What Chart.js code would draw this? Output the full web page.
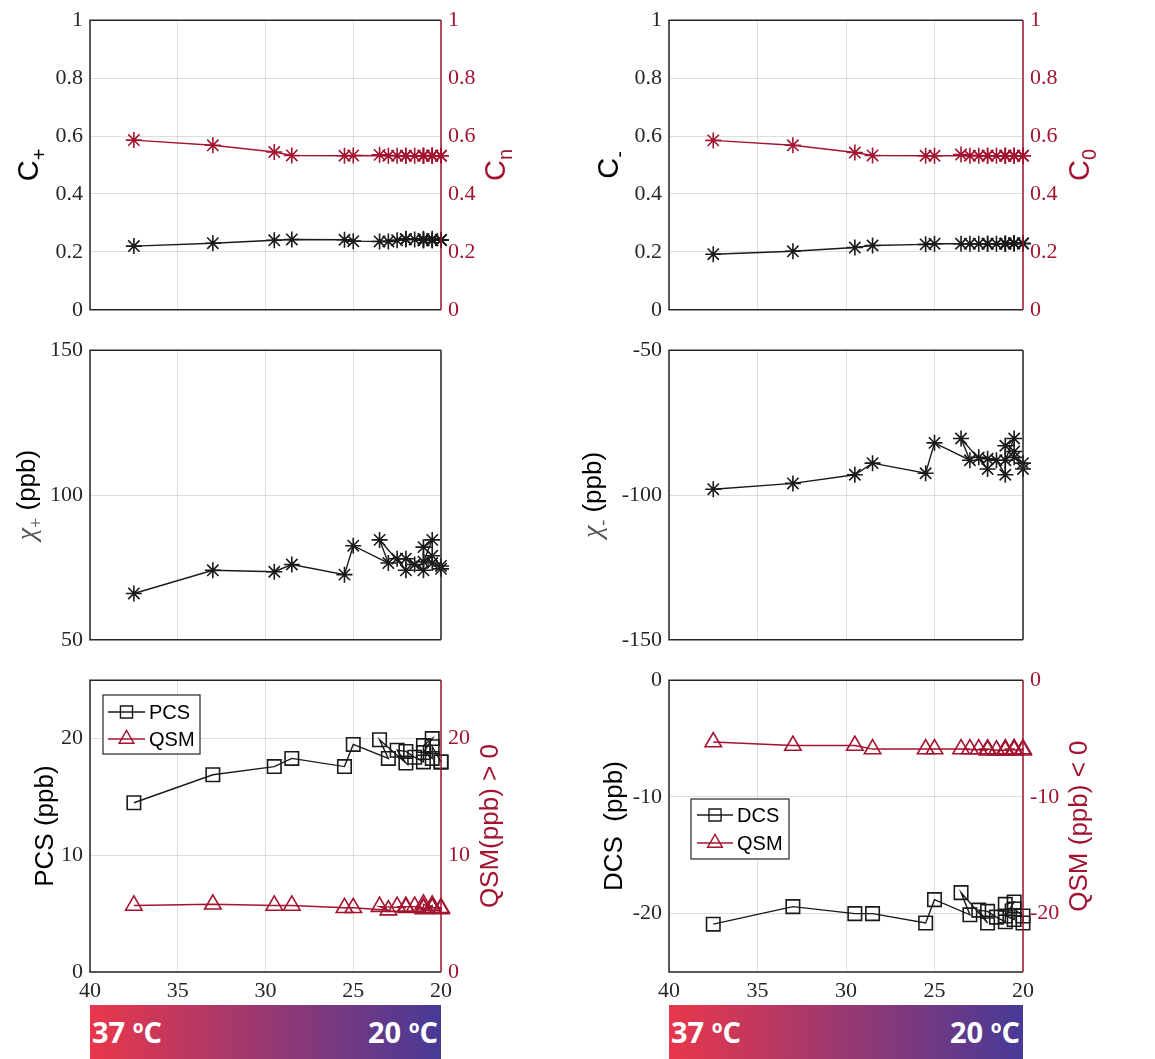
<!DOCTYPE html>
<html>
<head>
<meta charset="utf-8">
<script src="https://cdn.jsdelivr.net/npm/chart.js@4.4.0/dist/chart.umd.min.js"></script>
<style>
html, body { margin: 0; padding: 0; background: #fff; }
body { width: 1155px; height: 1059px; position: relative; overflow: hidden; }
.panel { position: absolute; }
.bar { position: absolute; top: 1005px; height: 54px; background: linear-gradient(to right, #e9374b, #473a97); color: #fff; font: bold 29px "Open Sans", sans-serif; }
.bar span { position: absolute; top: 12px; line-height: 1; }
.bar sup { font-size: 0.6em; vertical-align: 0.6em; }
</style>
</head>
<body>
<div class="panel" style="left:0;top:0;width:580px;height:330px"><canvas id="cPlusChart"></canvas></div>
<div class="panel" style="left:580px;top:0;width:575px;height:330px"><canvas id="cMinusChart"></canvas></div>
<div class="panel" style="left:0;top:330px;width:580px;height:330px"><canvas id="chiPlusChart"></canvas></div>
<div class="panel" style="left:580px;top:330px;width:575px;height:330px"><canvas id="chiMinusChart"></canvas></div>
<div class="panel" style="left:0;top:660px;width:580px;height:345px"><canvas id="pcsChart"></canvas></div>
<div class="panel" style="left:580px;top:660px;width:575px;height:345px"><canvas id="dcsChart"></canvas></div>
<div class="bar" style="left:90px;width:351px"><span style="left:2px">37 <sup>o</sup>C</span><span style="right:3px">20 <sup>o</sup>C</span></div>
<div class="bar" style="left:669px;width:354px"><span style="left:2px">37 <sup>o</sup>C</span><span style="right:3px">20 <sup>o</sup>C</span></div>
<script>
// temperature (°C) of each acquisition, in acquisition order
const temps    = [37.5, 33, 29.5, 28.5, 25.5, 25, 23, 23.5, 22, 22.5, 22, 21.5, 21, 21, 20.5, 21, 20.5, 20.5, 20, 20];
const cPlus    = [0.22, 0.23, 0.24, 0.243, 0.242, 0.237, 0.236, 0.236, 0.243, 0.24, 0.245, 0.243, 0.24, 0.245, 0.24, 0.24, 0.24, 0.245, 0.24, 0.242];
const cN       = [0.586, 0.568, 0.545, 0.533, 0.532, 0.533, 0.532, 0.535, 0.532, 0.532, 0.532, 0.532, 0.532, 0.532, 0.533, 0.532, 0.532, 0.532, 0.532, 0.532];
const cMinus   = [0.192, 0.202, 0.215, 0.222, 0.226, 0.228, 0.228, 0.228, 0.228, 0.228, 0.228, 0.228, 0.229, 0.228, 0.23, 0.228, 0.229, 0.23, 0.228, 0.23];
const cZero    = [0.585, 0.568, 0.543, 0.533, 0.532, 0.532, 0.532, 0.536, 0.532, 0.532, 0.532, 0.532, 0.532, 0.532, 0.532, 0.532, 0.532, 0.532, 0.532, 0.532];
const chiPlus  = [66, 74, 73.5, 76, 72.5, 82.5, 76.5, 84.5, 74, 78, 78, 76, 74, 82, 84.5, 77, 79, 76.5, 75.5, 74.5];
const chiMinus = [-98, -96, -93, -89, -92.5, -82, -88, -80.5, -91, -87, -87.5, -88, -93, -83, -80.5, -88, -85, -87, -89, -91];
const pcs      = [14.5, 16.9, 17.6, 18.3, 17.6, 19.5, 18.3, 19.9, 17.9, 19, 18.9, 18.4, 18, 19.4, 20, 18.8, 18.3, 19.3, 18, 18];
const qsmPos   = [5.7, 5.8, 5.7, 5.7, 5.5, 5.5, 5.3, 5.6, 5.5, 5.6, 5.6, 5.6, 5.5, 5.8, 5.5, 5.4, 5.7, 5.5, 5.5, 5.4];
const dcs      = [-20.9, -19.4, -20, -20, -20.8, -18.8, -20.1, -18.2, -20.8, -19.7, -19.8, -20.3, -20.7, -19.2, -19, -20.2, -20.5, -19.6, -20.2, -20.8];
const qsmNeg   = [-5.3, -5.6, -5.6, -5.9, -5.9, -5.9, -5.9, -5.9, -6.0, -5.9, -5.9, -6.0, -6.0, -5.9, -5.9, -6.0, -5.9, -6.0, -5.9, -6.0];
const xTicks   = [40, 35, 30, 25, 20];

const BLACK = '#1a1a1a', RED = '#a2142f', AXIS = '#262626', GRID = 'rgba(0,0,0,0.13)';
const tickFont = { family: '"Liberation Serif", serif', size: 22 };
const SANS = '"Liberation Sans", Arial, sans-serif';

const pts = vals => temps.map((t, i) => ({ x: t, y: vals[i] }));

function series(label, vals, color, style, radius, axis) {
  return {
    label, data: pts(vals), yAxisID: axis || 'y',
    borderColor: color, borderWidth: 1.4,
    pointStyle: style, pointRadius: radius, pointBorderWidth: 1.6,
    pointBorderColor: color, pointBackgroundColor: 'rgba(0,0,0,0)',
    clip: false, tension: 0
  };
}

function xAxis(labels, h) {
  return {
    type: 'linear', min: 20, max: 40, reverse: true,
    afterFit: s => { s.height = h; },
    afterBuildTicks: s => { s.ticks = xTicks.map(v => ({ value: v })); },
    grid: { color: GRID, drawTicks: false },
    border: { display: false },
    ticks: { display: labels, color: AXIS, font: tickFont, padding: 6, maxRotation: 0 }
  };
}

function yAxis(pos, min, max, step, color, w, grid) {
  return {
    type: 'linear', position: pos, min, max,
    afterFit: s => { s.width = w; },
    grid: { display: grid, color: GRID, drawTicks: false },
    border: { display: false },
    ticks: {
      stepSize: step, includeBounds: false, color, font: tickFont, padding: 7,
      callback: v => String(Math.round(v * 10) / 10)
    }
  };
}

// box around the plot area (right edge coloured like the right axis)
const framePlugin = {
  id: 'frame',
  afterDraw(chart, args, opts) {
    const { ctx, chartArea: a } = chart;
    ctx.save();
    ctx.lineWidth = 1.5;
    ctx.strokeStyle = AXIS;
    ctx.beginPath();
    ctx.moveTo(a.right, a.top); ctx.lineTo(a.left, a.top);
    ctx.lineTo(a.left, a.bottom); ctx.lineTo(a.right, a.bottom);
    ctx.stroke();
    ctx.strokeStyle = opts.right || AXIS;
    ctx.beginPath(); ctx.moveTo(a.right, a.top); ctx.lineTo(a.right, a.bottom); ctx.stroke();
    ctx.restore();
  }
};

// rotated axis titles with subscripts
const titlePlugin = {
  id: 'sideTitles',
  afterDraw(chart, args, opts) {
    const { ctx, chartArea: a } = chart;
    const cy = (a.top + a.bottom) / 2;
    (opts.items || []).forEach(t => {
      ctx.save();
      ctx.translate(t.x, cy);
      ctx.rotate(-Math.PI / 2);
      ctx.textBaseline = 'alphabetic';
      ctx.textAlign = 'left';
      let total = 0;
      t.parts.forEach(p => { ctx.font = p.font; total += ctx.measureText(p.text).width; });
      let x = -total / 2;
      t.parts.forEach(p => {
        ctx.font = p.font;
        ctx.fillStyle = p.color;
        ctx.fillText(p.text, x, p.dy || 0);
        x += ctx.measureText(p.text).width;
      });
      ctx.restore();
    });
  }
};

// boxed legend inside the plot
const boxLegend = {
  id: 'boxLegend',
  afterDraw(chart, args, opts) {
    if (!opts.box) return;
    const { ctx } = chart;
    const b = opts.box;
    ctx.save();
    ctx.fillStyle = '#fff';
    ctx.fillRect(b.x, b.y, b.w, b.h);
    ctx.lineWidth = 1.2;
    ctx.strokeStyle = AXIS;
    ctx.strokeRect(b.x, b.y, b.w, b.h);
    chart.data.datasets.forEach((ds, i) => {
      const y = b.y + opts.rows[i];
      ctx.strokeStyle = ds.borderColor;
      ctx.lineWidth = 1.4;
      ctx.beginPath(); ctx.moveTo(opts.line[0], y); ctx.lineTo(opts.line[1], y); ctx.stroke();
      ctx.fillStyle = 'rgba(0,0,0,0)';
      Chart.helpers.drawPoint(ctx, { pointStyle: ds.pointStyle, radius: ds.pointRadius * 0.9, borderWidth: 1.4, rotation: 0 },
        (opts.line[0] + opts.line[1]) / 2, y);
      ctx.fillStyle = '#000';
      ctx.font = '20px ' + SANS;
      ctx.textBaseline = 'middle';
      ctx.fillText(ds.label, opts.textX, y + 1);
    });
    ctx.restore();
  }
};

function subTitle(main, sub, color, x, size, dy) {
  return { x, parts: [
    { text: main, font: size + 'px ' + SANS, color },
    { text: sub, font: Math.round(size * 0.7) + 'px ' + SANS, color, dy }
  ] };
}
function chiTitle(sub, x) {
  return { x, parts: [
    { text: 'χ', font: 'italic 28px "Liberation Serif", serif', color: '#555' },
    { text: sub, font: '18px "Liberation Serif", serif', color: '#555', dy: 7 },
    { text: ' (ppb)', font: '26px ' + SANS, color: '#000' }
  ] };
}
function plainTitle(text, color, x) {
  return { x, parts: [{ text, font: '26px ' + SANS, color }] };
}

function makePanel(id, o) {
  const scales = { x: xAxis(o.xLabels, o.xHeight), y: o.y };
  if (o.y2) scales.y2 = o.y2;
  return new Chart(document.getElementById(id), {
    type: 'line',
    data: { datasets: o.datasets },
    options: {
      responsive: true, maintainAspectRatio: false, animation: false,
      layout: { padding: { top: o.top, right: o.padRight || 0 } },
      scales,
      plugins: {
        legend: { display: false }, tooltip: { enabled: false },
        frame: { right: o.y2 ? RED : AXIS },
        sideTitles: { items: o.titles },
        boxLegend: o.legend || {}
      }
    },
    plugins: [framePlugin, titlePlugin, boxLegend]
  });
}

makePanel('cPlusChart', {
  top: 20, xLabels: false, xHeight: 18,
  y: yAxis('left', 0, 1, 0.2, AXIS, 90, true),
  y2: yAxis('right', 0, 1, 0.2, RED, 139, false),
  datasets: [series('C+', cPlus, BLACK, 'star', 8), series('Cn', cN, RED, 'star', 8, 'y2')],
  titles: [subTitle('C', '+', '#000', 38, 29, 8), subTitle('C', 'n', RED, 505, 29, 7)]
});
makePanel('cMinusChart', {
  top: 20, xLabels: false, xHeight: 18,
  y: yAxis('left', 0, 1, 0.2, AXIS, 89, true),
  y2: yAxis('right', 0, 1, 0.2, RED, 132, false),
  datasets: [series('C-', cMinus, BLACK, 'star', 8), series('C0', cZero, RED, 'star', 8, 'y2')],
  titles: [subTitle('C', '-', '#000', 38, 29, 8), subTitle('C', '0', RED, 509, 29, 7)]
});
makePanel('chiPlusChart', {
  top: 19, xLabels: false, xHeight: 18, padRight: 139,
  y: yAxis('left', 50, 150, 50, AXIS, 90, true),
  datasets: [series('χ+', chiPlus, BLACK, 'star', 8)],
  titles: [chiTitle('+', 35)]
});
makePanel('chiMinusChart', {
  top: 19, xLabels: false, xHeight: 18, padRight: 132,
  y: yAxis('left', -150, -50, 50, AXIS, 89, true),
  datasets: [series('χ-', chiMinus, BLACK, 'star', 8)],
  titles: [chiTitle('-', 21)]
});
makePanel('pcsChart', {
  top: 19, xLabels: true, xHeight: 33,
  y: yAxis('left', 0, 25, 10, AXIS, 90, true),
  y2: yAxis('right', 0, 25, 10, RED, 139, false),
  datasets: [series('PCS', pcs, BLACK, 'rect', 9.5), series('QSM', qsmPos, RED, 'triangle', 9.5, 'y2')],
  titles: [plainTitle('PCS (ppb)', '#000', 53), plainTitle('QSM(ppb) > 0', RED, 498)],
  legend: { box: { x: 103, y: 35, w: 97, h: 59 }, rows: [17, 44], line: [108, 145], textX: 149 }
});
makePanel('dcsChart', {
  top: 19, xLabels: true, xHeight: 33,
  y: yAxis('left', -25, 0, 10, AXIS, 89, true),
  y2: yAxis('right', -25, 0, 10, RED, 132, false),
  datasets: [series('DCS', dcs, BLACK, 'rect', 9.5), series('QSM', qsmNeg, RED, 'triangle', 9.5, 'y2')],
  titles: [plainTitle('DCS  (ppb)', '#000', 42), plainTitle('QSM (ppb) < 0', RED, 507)],
  legend: { box: { x: 111, y: 139, w: 98, h: 60 }, rows: [16, 44], line: [117, 153], textX: 157 }
});
</script>
</body>
</html>
